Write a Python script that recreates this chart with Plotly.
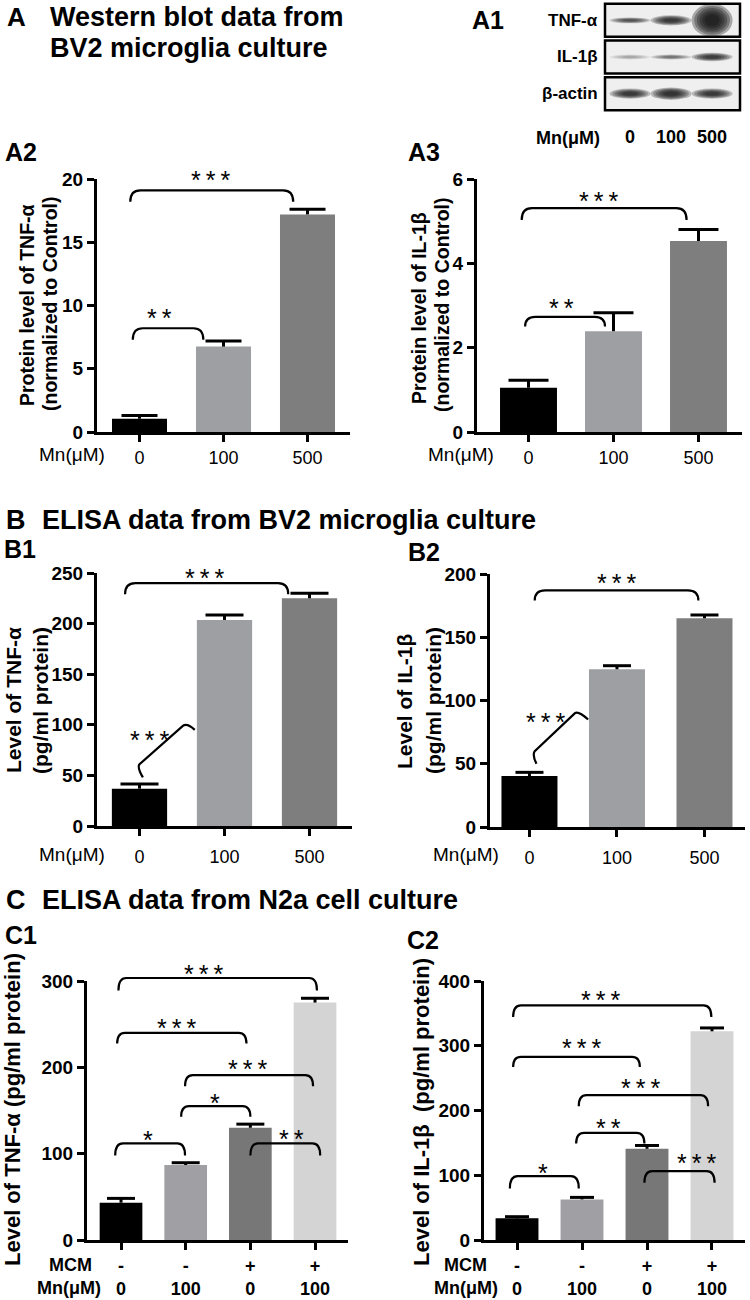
import plotly.graph_objects as go

W, H = 750, 1300
SANS = "Liberation Sans, Arial, sans-serif"

# ---- values ----
mn_ab = ["0", "100", "500"]
mcm_c = ["-", "-", "+", "+"]
mn_c = ["0", "100", "0", "100"]

tnf_wb_mean = [1.05, 6.75, 17.2]
tnf_wb_sem = [0.25, 0.45, 0.4]
il1b_wb_mean = [1.05, 2.39, 4.53]
il1b_wb_sem = [0.18, 0.44, 0.27]
tnf_bv2_mean = [36.9, 203.6, 225.0]
tnf_bv2_sem = [4.6, 5.0, 5.0]
il1b_bv2_mean = [40.3, 124.7, 165.0]
il1b_bv2_sem = [2.9, 2.8, 2.6]
tnf_n2a_mean = [43.2, 86.8, 130.0, 275.0]
tnf_n2a_sem = [5.0, 2.7, 4.2, 5.0]
il1b_n2a_mean = [33.4, 62.7, 140.9, 322.3]
il1b_n2a_sem = [2.6, 3.1, 5.1, 5.2]

# significance brackets: (start, end, height, end height, stars, label x, label y)
tnf_wb_sig = [(-0.11, 1.83, 19.1, 18.2, "***", 0.84, 20.3),
              (-0.08, 0.76, 8.2, 7.3, "**", 0.24, 9.4)]
il1b_wb_sig = [(-0.08, 1.86, 5.31, 5.03, "***", 0.82, 5.59),
               (-0.04, 0.90, 2.73, 2.50, "**", 0.39, 3.05)]
tnf_bv2_sig = [(-0.17, 1.75, 240, 229, "***", 0.77, 250)]
il1b_bv2_sig = [(0.06, 1.93, 187, 179, "***", 1.0, 197)]
tnf_n2a_sig = [(-0.04, 3.03, 303.5, 289, "***", 1.27, 314),
               (-0.06, 1.94, 240, 227.5, "***", 0.86, 251),
               (0.99, 2.97, 191, 178, "***", 1.96, 204),
               (0.93, 2.00, 155, 142.7, "*", 1.45, 165),
               (-0.09, 0.99, 112, 98, "*", 0.42, 122),
               (2.00, 3.08, 112, 98, "**", 2.64, 122.6)]
il1b_n2a_sig = [(-0.06, 2.99, 362.4, 344.4, "***", 1.29, 378),
                (-0.06, 1.89, 282.8, 267, "***", 0.99, 304),
                (0.95, 2.94, 223.6, 206.7, "***", 1.9, 242.7),
                (0.91, 1.96, 165.5, 149, "**", 1.4, 181),
                (-0.11, 0.95, 98.7, 79.7, "*", 0.4, 110.5),
                (1.96, 3.04, 106.4, 88.4, "***", 2.76, 126)]

# slanted brackets in B1 / B2: curl start, curl end, peak start, peak, end
tnf_bv2_slant = [(0.04, 48), (-0.03, 58), (0.51, 99), (0.56, 102), (0.65, 95)]
tnf_bv2_slant_lab = ("***", 0.12, 90)
il1b_bv2_slant = [(0.08, 50), (0.03, 57), (0.52, 90), (0.56, 92), (0.67, 85)]
il1b_bv2_slant_lab = ("***", 0.18, 87)

# western blot
blot_rows = ["TNF-α", "IL-1β", "β-actin"]
band_density = [[0.55, 0.75, 1.0],
                [0.18, 0.38, 0.7],
                [0.75, 0.8, 0.75]]

AB_COLORS = ["#000000", "#9e9fa3", "#7e7e7e"]
C_COLORS = ["#000000", "#a0a0a4", "#777777", "#d4d4d4"]

panels = [
    dict(mean=tnf_wb_mean, sem=tnf_wb_sem, sig=tnf_wb_sig, slant=None,
         box=(97, 179, 350, 432), xr=(-0.506, 2.506), ymax=20, dtick=5, bw=0.655, cap=18,
         colors=AB_COLORS, ticktext=mn_ab, stand=0),
    dict(mean=il1b_wb_mean, sem=il1b_wb_sem, sig=il1b_wb_sig, slant=None,
         box=(477, 179, 742, 432), xr=(-0.606, 2.512), ymax=6, dtick=2, bw=0.67, cap=20,
         colors=AB_COLORS, ticktext=mn_ab, stand=0),
    dict(mean=tnf_bv2_mean, sem=tnf_bv2_sem, sig=tnf_bv2_sig,
         slant=(tnf_bv2_slant, tnf_bv2_slant_lab),
         box=(97, 573, 352, 826), xr=(-0.5, 2.5), ymax=250, dtick=50, bw=0.65, cap=19,
         colors=AB_COLORS, ticktext=mn_ab, stand=5),
    dict(mean=il1b_bv2_mean, sem=il1b_bv2_sem, sig=il1b_bv2_sig,
         slant=(il1b_bv2_slant, il1b_bv2_slant_lab),
         box=(490, 574, 745, 827), xr=(-0.451, 2.463), ymax=200, dtick=50, bw=0.64, cap=14,
         colors=AB_COLORS, ticktext=mn_ab, stand=5),
    dict(mean=tnf_n2a_mean, sem=tnf_n2a_sem, sig=tnf_n2a_sig, slant=None,
         box=(87, 981, 348, 1240), xr=(-0.526, 3.51), ymax=300, dtick=100, bw=0.66, cap=14,
         colors=C_COLORS, ticktext=[f"{a}<br>{b}" for a, b in zip(mcm_c, mn_c)], stand=0),
    dict(mean=il1b_n2a_mean, sem=il1b_n2a_sem, sig=il1b_n2a_sig, slant=None,
         box=(484, 981, 745, 1240), xr=(-0.508, 3.508), ymax=400, dtick=100, bw=0.66, cap=12,
         colors=C_COLORS, ticktext=[f"{a}<br>{b}" for a, b in zip(mcm_c, mn_c)], stand=0),
]


def sfx(n):
    return "" if n == 1 else str(n)


def stars_text(s):
    return "\u2009".join(s)


fig = go.Figure()
shapes = []
annos = []
layout = dict(width=W, height=H, margin=dict(l=0, r=0, t=0, b=0, autoexpand=False),
              plot_bgcolor="rgba(0,0,0,0)", paper_bgcolor="white", showlegend=False)

tick_font = dict(family=SANS, size=19, color="black", weight="bold")
xtick_font = dict(family=SANS, size=18, color="black")
xtick_font_c = dict(family=SANS, size=18, color="black", weight="bold")
star_font = dict(family=SANS, size=25, color="black")

for i, p in enumerate(panels):
    n, m = i + 1, i + 7
    left, top, right, bottom = p["box"]
    xdom = [left / W, right / W]
    ydom = [1 - bottom / H, 1 - top / H]
    nb = len(p["mean"])
    idx = list(range(nb))
    is_c = nb == 4
    layout[f"xaxis{sfx(n)}"] = dict(
        domain=xdom, anchor=f"y{sfx(n)}", range=list(p["xr"]), tickvals=idx,
        ticktext=p["ticktext"], showline=True, linewidth=3, linecolor="black",
        ticks="outside", ticklen=7, tickwidth=2.5, tickcolor="black", automargin=False,
        showgrid=False, zeroline=False, ticklabelstandoff=p["stand"],
        tickfont=xtick_font_c if is_c else xtick_font)
    layout[f"yaxis{sfx(n)}"] = dict(
        domain=ydom, anchor=f"x{sfx(n)}", range=[0, p["ymax"]],
        tickvals=list(range(0, p["ymax"] + 1, p["dtick"])), automargin=False,
        showline=True, linewidth=3, linecolor="black", ticks="outside",
        ticklen=7, tickwidth=2.5, tickcolor="black", showgrid=False,
        zeroline=False, tickfont=tick_font)
    # overlay layer for brackets (same scale, taller so brackets are not clipped)
    k = (bottom - top) / p["ymax"]
    ext = 70
    layout[f"xaxis{m}"] = dict(domain=xdom, anchor=f"y{m}", range=list(p["xr"]),
                               visible=False, automargin=False)
    layout[f"yaxis{m}"] = dict(domain=[ydom[0], 1 - (top - ext) / H], anchor=f"x{m}",
                               range=[0, p["ymax"] + ext / k], visible=False, automargin=False)

    fig.add_trace(go.Bar(x=idx, y=p["mean"], width=p["bw"],
                         marker=dict(color=p["colors"], line=dict(width=0)),
                         xaxis=f"x{sfx(n)}", yaxis=f"y{sfx(n)}", hoverinfo="skip"))
    # upper error bars
    cap_u = p["cap"] / ((right - left) / (p["xr"][1] - p["xr"][0]))
    ex, ey = [], []
    for j in idx:
        t = p["mean"][j] + p["sem"][j]
        ex += [j, j, None, j - cap_u, j + cap_u, None]
        ey += [p["mean"][j], t, None, t, t, None]
    fig.add_trace(go.Scatter(x=ex, y=ey, mode="lines", line=dict(color="black", width=3),
                             xaxis=f"x{sfx(n)}", yaxis=f"y{sfx(n)}", hoverinfo="skip"))

    for (x0, x1, yt, ye, stars, lx, ly) in p["sig"]:
        r = min(0.12, (x1 - x0) / 4)
        path = (f"M {x0},{ye} Q {x0},{yt} {x0 + r},{yt} L {x1 - r},{yt} "
                f"Q {x1},{yt} {x1},{ye}")
        shapes.append(dict(type="path", path=path, xref=f"x{m}", yref=f"y{m}",
                           line=dict(color="black", width=2.2)))
        annos.append(dict(text=stars_text(stars), x=lx, y=ly, xref=f"x{m}", yref=f"y{m}",
                          showarrow=False, yshift=-5, font=star_font))
    if p["slant"]:
        pts, (stars, lx, ly) = p["slant"]
        (a, b, c, d, e) = pts
        path = (f"M {a[0]},{a[1]} Q {b[0]},{b[1]} {b[0] + 0.03},{b[1] + 3} "
                f"L {c[0]},{c[1]} Q {d[0]},{d[1]} {e[0]},{e[1]}")
        shapes.append(dict(type="path", path=path, xref=f"x{m}", yref=f"y{m}",
                           line=dict(color="black", width=2.2)))
        annos.append(dict(text=stars_text(stars), x=lx, y=ly, xref=f"x{m}", yref=f"y{m}",
                          showarrow=False, yshift=-5, font=star_font))

# western blot panel (axis 13)
lanes = [1, 2, 3]
layout["xaxis13"] = dict(domain=[605 / W, 740 / W], anchor="y13", range=[0.39, 3.68],
                         tickvals=lanes, ticktext=mn_ab, showline=False, showgrid=False,
                         zeroline=False, ticks="", ticklabelstandoff=12, automargin=False,
                         tickfont=dict(family=SANS, size=18, color="black", weight="bold"))
layout["yaxis13"] = dict(domain=[1 - 112 / H, 1 - 2 / H], anchor="x13", range=[3, 0],
                         visible=False, automargin=False)
for r, row in enumerate(blot_rows):
    shapes.append(dict(type="rect", xref="x13 domain", yref="y13", x0=0, x1=1,
                       y0=r + 0.05, y1=r + 0.95, fillcolor="#efefef",
                       line=dict(color="black", width=2.5), layer="below"))
    for li, lane in enumerate(lanes):
        dens = band_density[r][li]
        h = 0.07 + 0.38 * dens ** 6
        for s in range(6):
            scale = 1.0 - 0.13 * s
            shapes.append(dict(type="circle", xref="x13", yref="y13",
                               x0=lane - 0.5 * scale, x1=lane + 0.5 * scale,
                               y0=r + 0.5 - h * scale, y1=r + 0.5 + h * scale,
                               fillcolor=f"rgba(15,15,15,{dens * 0.32:.3f})",
                               line=dict(width=0), layer="below"))
    annos.append(dict(text=row, x=600 / W, xref="paper", xanchor="right", y=r + 0.5,
                      yref="y13", showarrow=False,
                      font=dict(family=SANS, size=17, color="black", weight="bold")))

layout["shapes"] = shapes


def txt(s, x, y, size, anchor="left", bold=True, angle=0):
    annos.append(dict(text=s, x=x / W, y=1 - y / H, xref="paper", yref="paper",
                      xanchor=anchor, yanchor="middle", showarrow=False, textangle=angle,
                      font=dict(family=SANS, size=size, color="black",
                                weight="bold" if bold else "normal")))


# panel headings
txt("A", 5, 17, 26)
txt("Western blot data from", 48, 17, 27)
txt("BV2 microglia culture", 48, 48, 27)
txt("A1", 470, 20, 25)
txt("A2", 3, 152, 25)
txt("A3", 406, 152, 25)
txt("B", 4, 520, 27)
txt("ELISA data from BV2 microglia culture", 40, 520, 27)
txt("B1", 2, 549, 25)
txt("B2", 406, 552, 25)
txt("C", 4, 900, 27)
txt("ELISA data from N2a cell culture", 40, 900, 27)
txt("C1", 3, 935, 25)
txt("C2", 405, 940, 25)

# y axis titles
txt("Protein level of TNF-α", 27, 305, 19.5, "center", angle=-90)
txt("(normalized to Control)", 50, 304, 19.5, "center", angle=-90)
txt("Protein level of IL-1β", 419, 308, 19.5, "center", angle=-90)
txt("(normalized to Control)", 442, 305, 19.5, "center", angle=-90)
txt("Level of TNF-α", 13, 700, 21, "center", angle=-90)
txt("(pg/ml protein)", 41, 701, 21, "center", angle=-90)
txt("Level of IL-1β", 405, 701, 21, "center", angle=-90)
txt("(pg/ml protein)", 434, 701, 21, "center", angle=-90)
txt("Level of TNF-α (pg/ml protein)", 12, 1110, 22, "center", angle=-90)
txt("Level of IL-1β  (pg/ml protein)", 421, 1112, 22, "center", angle=-90)

# x row labels
txt("Mn(μM)", 72, 455, 19, "center", bold=False)
txt("Mn(μM)", 461, 455, 19, "center", bold=False)
txt("Mn(μM)", 72, 854, 19, "center", bold=False)
txt("Mn(μM)", 466, 854, 19, "center", bold=False)
txt("MCM", 70, 1265, 18, "center")
txt("Mn(μM)", 69, 1288, 18, "center")
txt("MCM", 466, 1265, 18, "center")
txt("Mn(μM)", 466, 1288, 18, "center")
txt("Mn(μM)", 568, 138, 18, "center")

layout["annotations"] = annos
fig.update_layout(**layout)
fig.write_html("out.html", config={"displayModeBar": False},
               post_script="document.body.style.margin='0px';")
